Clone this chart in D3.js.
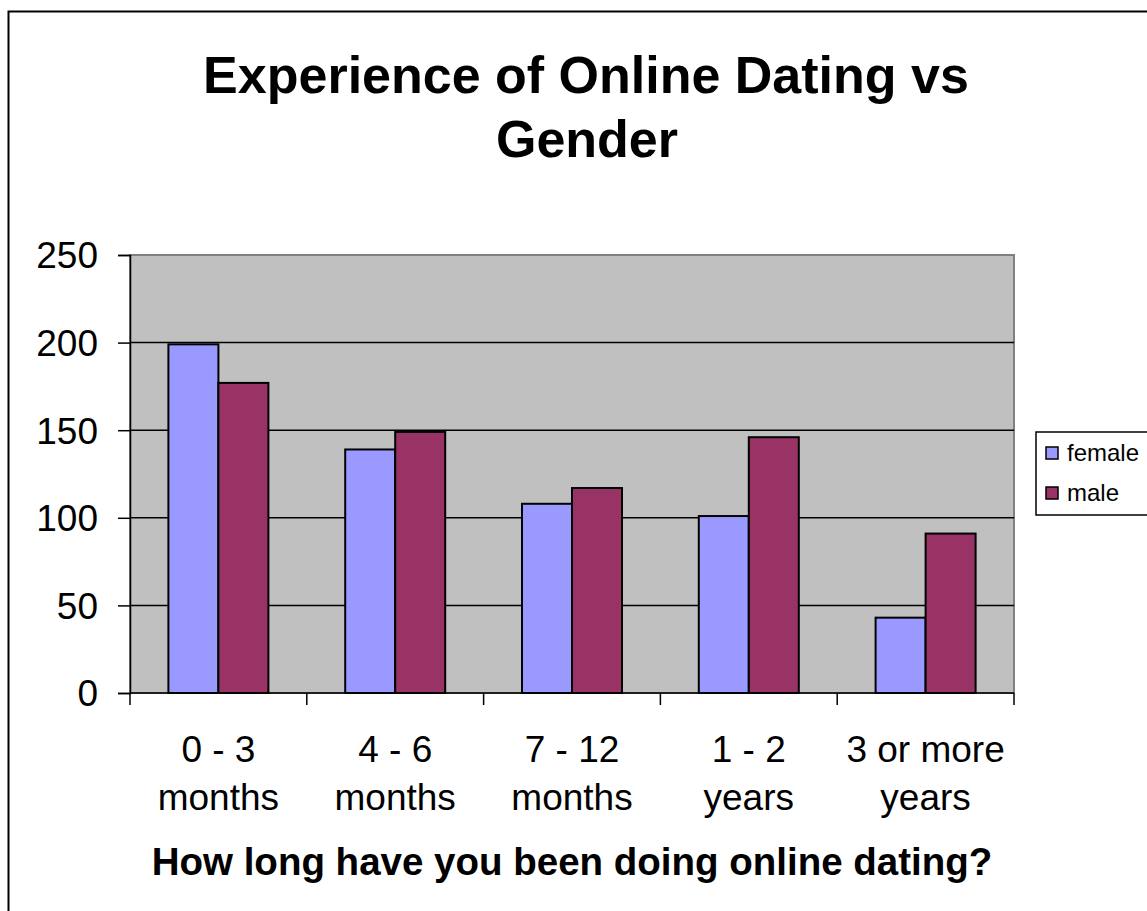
<!DOCTYPE html>
<html><head><meta charset="utf-8">
<script src="https://cdn.jsdelivr.net/npm/d3@7"></script>
<style>body{margin:0;background:#fff}svg{display:block;font-family:"Liberation Sans",Arial,sans-serif}</style>
</head><body><svg id="c" width="1147" height="911"></svg>
<script>
const categories = [["0 - 3","months"],["4 - 6","months"],["7 - 12","months"],["1 - 2","years"],["3 or more","years"]];
const seriesNames = ["female","male"];
const female = [199, 139, 108, 101, 43];
const male = [177, 149, 117, 146, 91];
const yTicks = [0,50,100,150,200,250];
const colors = ["#9999FF","#993366"];

const svg = d3.select("#c");
svg.append("rect").attr("x",8.5).attr("y",11.5).attr("width",1160).attr("height",920)
  .attr("fill","#fff").attr("stroke","#000").attr("stroke-width",2);

const L=130,R=1014,T=255,B=693;
const x = d3.scaleBand().domain(d3.range(categories.length)).range([L,R]);
const y = d3.scaleLinear().domain([0,250]).range([B,T]);

svg.append("rect").attr("x",L).attr("y",T).attr("width",R-L).attr("height",B-T)
  .attr("fill","#C0C0C0").attr("stroke","#808080").attr("stroke-width",2);

svg.append("g").selectAll("line").data(yTicks.filter(d=>d>0&&d<250)).join("line")
  .attr("x1",L).attr("x2",R).attr("y1",d=>y(d)).attr("y2",d=>y(d))
  .attr("stroke","#000").attr("stroke-width",1.5);

const bw = 50;
const g = svg.append("g");
categories.forEach((c,i)=>{
  [female[i],male[i]].forEach((v,j)=>{
    const cx = x(i) + x.bandwidth()/2 + (j-1)*bw;
    g.append("rect").attr("x",cx).attr("y",y(v)).attr("width",bw).attr("height",y(0)-y(v))
      .attr("fill",colors[j]).attr("stroke","#000").attr("stroke-width",2);
  });
});

const ya = svg.append("g").attr("transform",`translate(${L},0)`)
  .call(d3.axisLeft(y).tickValues(yTicks).tickSize(12).tickPadding(20));
ya.select(".domain").attr("stroke","#000").attr("stroke-width",1.5);
ya.selectAll(".tick line").attr("stroke","#000").attr("stroke-width",1.5);
ya.selectAll(".tick text").attr("font-size",37).attr("fill","#000").attr("font-family","Liberation Sans, Arial, sans-serif").attr("dy","0.35em");

const xa = svg.append("g").attr("transform",`translate(0,${B})`);
xa.append("line").attr("x1",L).attr("x2",R).attr("stroke","#000").attr("stroke-width",1.5);
const bounds = d3.range(categories.length+1).map(i=> i<categories.length? x(i): R);
xa.selectAll("line.tk").data(bounds).join("line").attr("class","tk")
  .attr("x1",d=>d).attr("x2",d=>d).attr("y1",0).attr("y2",12).attr("stroke","#000").attr("stroke-width",1.5);
const lab = xa.selectAll("text").data(categories).join("text")
  .attr("text-anchor","middle").attr("font-size",37).attr("fill","#000");
lab.each(function(c,i){
  const t=d3.select(this);
  c.forEach((s,k)=>t.append("tspan").attr("x",x(i)+x.bandwidth()/2).attr("y",69+k*48).text(s));
});

svg.append("text").attr("x",586).attr("y",93).attr("text-anchor","middle").attr("font-size",52).attr("font-weight","bold").text("Experience of Online Dating vs");
svg.append("text").attr("x",587).attr("y",157).attr("text-anchor","middle").attr("font-size",52).attr("font-weight","bold").text("Gender");
svg.append("text").attr("x",572).attr("y",875).attr("text-anchor","middle").attr("font-size",38.5).attr("font-weight","bold").text("How long have you been doing online dating?");

const lg = svg.append("g");
lg.append("rect").attr("x",1036).attr("y",432).attr("width",130).attr("height",83).attr("fill","#fff").attr("stroke","#000").attr("stroke-width",1.5);
seriesNames.forEach((s,j)=>{
  lg.append("rect").attr("x",1046).attr("y",447+j*40).attr("width",12).attr("height",12).attr("fill",colors[j]).attr("stroke","#000").attr("stroke-width",1.5);
  lg.append("text").attr("x",1067).attr("y",461+j*40).attr("font-size",24).text(s);
});
</script></body></html>
